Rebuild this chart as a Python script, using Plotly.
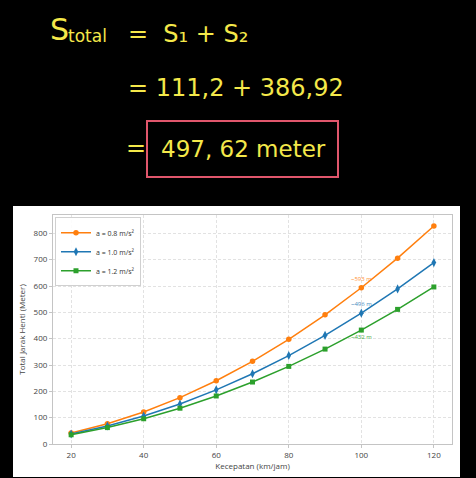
import plotly.graph_objects as go

# ---- data ----
speed_kmh = [20, 30, 40, 50, 60, 70, 80, 90, 100, 110, 120]
dist_a08 = [41.5, 76.7, 121.6, 176.1, 240.3, 314.1, 397.5, 490.6, 593.4, 705.7, 827.8]
dist_a10 = [37.7, 68.1, 106.2, 152.0, 205.6, 266.8, 335.8, 412.5, 496.9, 589.0, 688.9]
dist_a12 = [35.1, 62.3, 95.9, 135.9, 182.4, 235.3, 294.7, 360.4, 432.6, 511.2, 596.3]
series_names = ["a = 0.8 m/s²", "a = 1.0 m/s²", "a = 1.2 m/s²"]
label_texts = ["~593 m", "~496 m", "~432 m"]
label_index = 8  # the 100 km/jam point
x_ticks = [20, 40, 60, 80, 100, 120]
y_ticks = [0, 100, 200, 300, 400, 500, 600, 700, 800]

W, H = 476, 478
ML, MR, MT, MB = 53, 24, 215, 34
PW, PH = W - ML - MR, H - MT - MB


def px(x):
    return (x - ML) / PW


def py(y):
    return (H - MB - y) / PH


colors = ["#ff7f0e", "#1f77b4", "#2ca02c"]
symbols = ["circle", "diamond-tall", "square"]
sizes = [5.5, 6.5, 5]
font_family = "Open Sans"

fig = go.Figure()
for name, ys, c, s, sz in zip(series_names, [dist_a08, dist_a10, dist_a12], colors, symbols, sizes):
    fig.add_trace(go.Scatter(
        x=speed_kmh, y=ys, name=name, mode="lines+markers",
        line=dict(color=c, width=1.5),
        marker=dict(symbol=s, size=sz, color=c),
    ))

annotations = []
for txt, ys, c, shift in zip(label_texts, [dist_a08, dist_a10, dist_a12], colors, [9, 9, -7]):
    annotations.append(dict(
        x=speed_kmh[label_index], y=ys[label_index], text=txt, showarrow=False,
        yshift=shift, font=dict(size=6, color=c, family=font_family), opacity=0.85,
    ))

# handwritten-style header on black
yellow = "#f4e84a"
hand_font = "DejaVu Sans"


def hand(text, x, y, size, anchor="left"):
    return dict(xref="paper", yref="paper", x=px(x), y=py(y), xanchor=anchor, yanchor="middle",
                text=text, showarrow=False, font=dict(size=size, color=yellow, family=hand_font))


annotations += [
    hand("S", 48, 29, 30),
    hand("total", 66, 36, 17),
    hand("=  S₁ + S₂", 126, 34, 24),
    hand("= 111,2 + 386,92", 126, 88, 24),
    hand("=", 124, 148, 24),
    hand("497, 62 meter", 243, 149, 23, anchor="center"),
]

shapes = [
    dict(type="rect", xref="paper", yref="paper", x0=px(13), x1=px(460), y0=py(477), y1=py(206),
         fillcolor="white", line=dict(width=0), layer="below"),
    dict(type="rect", xref="paper", yref="paper", x0=px(147), x1=px(338), y0=py(177), y1=py(121),
         line=dict(color="#e0566c", width=2), fillcolor="rgba(0,0,0,0)"),
]

axis_common = dict(
    showline=True, linecolor="#c4c4c4", linewidth=1.2, mirror=True,
    ticks="outside", ticklen=3, tickcolor="#c4c4c4",
    showgrid=True, gridcolor="#e2e2e2", griddash="3px,2px", gridwidth=0.8,
    zeroline=False, automargin=False,
    tickfont=dict(size=8, color="#444", family=font_family),
)

fig.update_layout(
    width=W, height=H,
    margin=dict(l=ML, r=MR, t=MT, b=MB, autoexpand=False),
    paper_bgcolor="black", plot_bgcolor="white",
    showlegend=True,
    legend=dict(x=0.005, y=0.99, xanchor="left", yanchor="top",
                bgcolor="rgba(255,255,255,0.9)", bordercolor="#d0d0d0", borderwidth=1,
                font=dict(size=7, color="#333", family=font_family),
                itemwidth=30, tracegroupgap=0),
    xaxis=dict(range=[15, 125], tickvals=x_ticks,
               title=dict(text="Kecepatan (km/jam)", standoff=4,
                          font=dict(size=8, color="#444", family=font_family)),
               **axis_common),
    yaxis=dict(range=[0, 869.6], tickvals=y_ticks,
               title=dict(text="Total Jarak Henti (Meter)", standoff=6,
                          font=dict(size=8, color="#444", family=font_family)),
               **axis_common),
    annotations=annotations,
    shapes=shapes,
)

fig.write_html(
    "out.html",
    config={"displayModeBar": False},
    post_script=(
        "document.body.style.margin='0px';"
        "document.body.style.overflow='hidden';"
        "document.body.style.background='black';"
    ),
)
